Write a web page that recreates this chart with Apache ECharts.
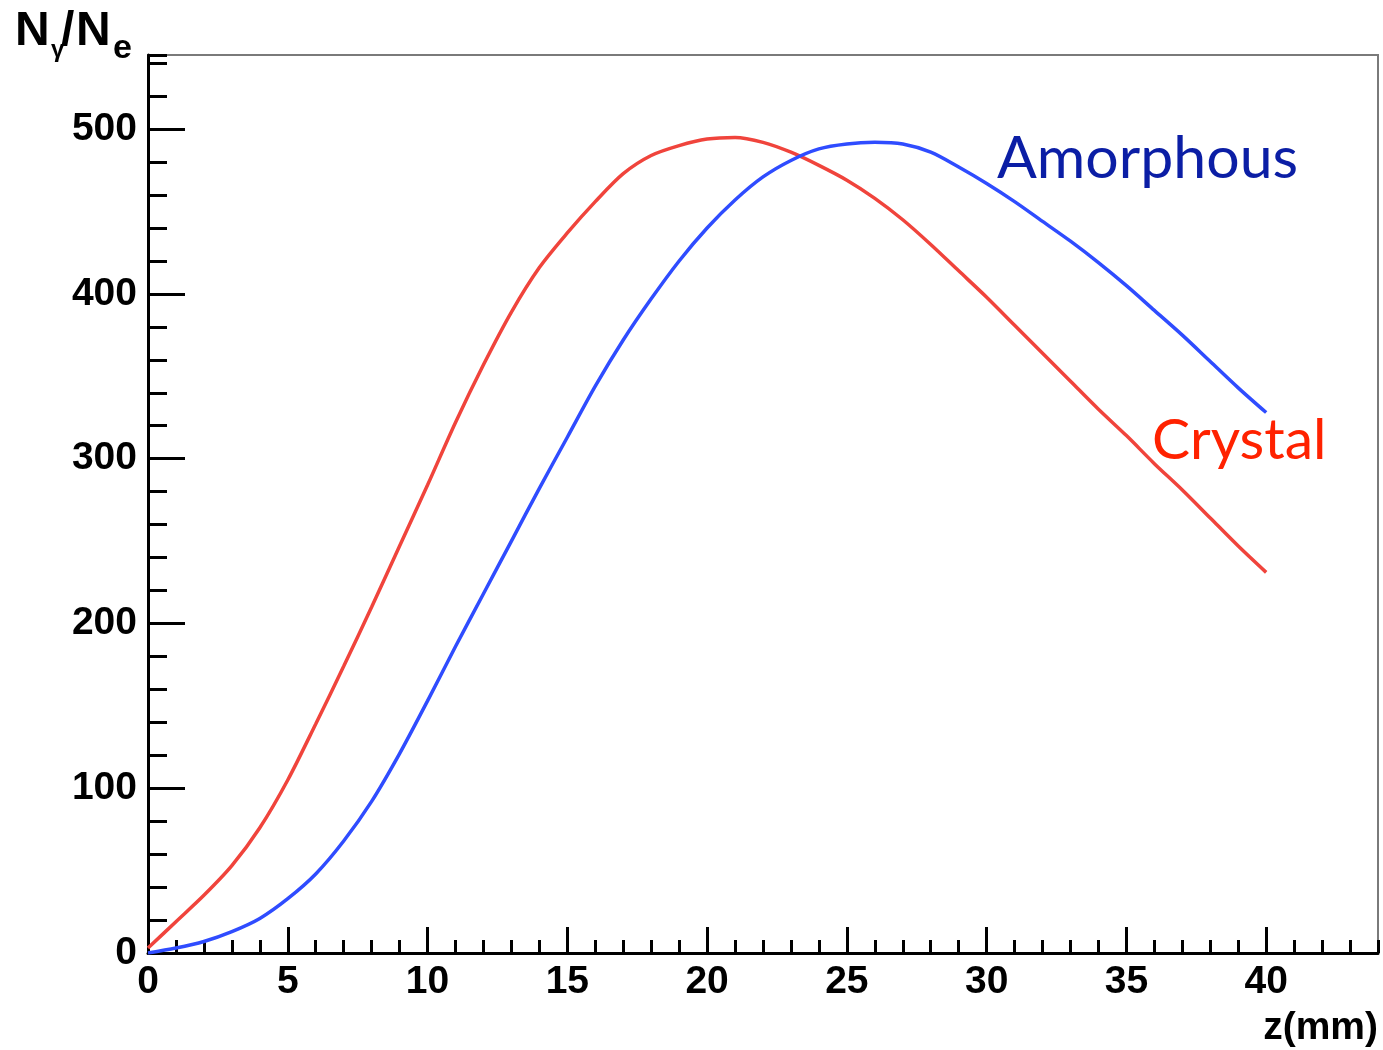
<!DOCTYPE html>
<html>
<head>
<meta charset="utf-8">
<script src="https://cdn.jsdelivr.net/npm/echarts@6/dist/echarts.min.js"></script>
<style>
html,body{margin:0;padding:0;background:#fff;}
#chart{width:1383px;height:1050px;}
</style>
</head>
<body>
<div id="chart"></div>
<script>
// z positions (mm)
var zValues = [0,1,2,3,4,5,6,7,8,9,10,11,12,13,14,15,16,17,18,19,20,21,22,23,24,25,26,27,28,29,30,31,32,33,34,35,36,37,38,39,40];
// Crystal (red)
var crystal = [3,19,35,53,76,105,139,174,210,247,284,322,357,389,416,437,456,473,484,490,494,495,492,486,478,469,458,445,430,414,398,381,364,347,330,314,297,281,264,247,231];
// Amorphous (blue)
var amorphous = [0,3,7,13,21,33,48,68,92,121,153,186,218,250,282,313,344,372,397,420,440,457,471,481,488,491,492,491,486,477,467,456,444,432,419,405,390,375,359,343,328];
var xMajorTicks = [0,5,10,15,20,25,30,35,40];
var yMajorTicks = [0,100,200,300,400,500];

var FONT = '"Liberation Sans", Arial, Helvetica, sans-serif';
var LABEL_FONT = 'Lato, "Open Sans", sans-serif';
function pairs(xs, ys){ return xs.map(function(x,i){ return [x, ys[i]]; }); }

var chart = echarts.init(document.getElementById('chart'), null, {renderer:'canvas'});
var option = {
  backgroundColor:'#ffffff',
  animation:false,
  grid:{left:148,right:5,top:55,bottom:97,show:true,borderColor:'#7a7a7a',borderWidth:2,backgroundColor:'transparent'},
  xAxis:[
    {type:'value',min:0,max:44,interval:5,
     axisLine:{show:true,onZero:false,lineStyle:{color:'#000',width:3}},
     axisTick:{show:true,inside:true,length:26,lineStyle:{color:'#000',width:3}},
     axisLabel:{show:true,margin:10,fontSize:39,fontWeight:'bold',fontFamily:FONT,color:'#000',showMaxLabel:false,
       formatter:function(v){ return xMajorTicks.indexOf(v)>=0 ? String(v) : ''; }},
     splitLine:{show:false}},
    {type:'value',min:0,max:44,interval:1,position:'bottom',
     axisLine:{show:false},
     axisTick:{show:true,inside:true,length:13,lineStyle:{color:'#000',width:3}},
     axisLabel:{show:false},splitLine:{show:false}}
  ],
  yAxis:[
    {type:'value',min:0,max:545,interval:100,
     axisLine:{show:true,onZero:false,lineStyle:{color:'#000',width:3}},
     axisTick:{show:true,inside:true,length:37,lineStyle:{color:'#000',width:3}},
     axisLabel:{show:true,margin:11,fontSize:39,fontWeight:'bold',fontFamily:FONT,color:'#000',showMaxLabel:false,
       formatter:function(v){ return yMajorTicks.indexOf(v)>=0 ? String(v) : ''; }},
     splitLine:{show:false}},
    {type:'value',min:0,max:545,interval:20,position:'left',
     axisLine:{show:false},
     axisTick:{show:true,inside:true,length:19,lineStyle:{color:'#000',width:3}},
     axisLabel:{show:false},splitLine:{show:false}}
  ],
  series:[
    {name:'Crystal',type:'line',xAxisIndex:0,yAxisIndex:0,data:pairs(zValues,crystal),showSymbol:false,smooth:0.3,
     lineStyle:{color:'#f0443c',width:3.5},z:3},
    {name:'Amorphous',type:'line',xAxisIndex:0,yAxisIndex:0,data:pairs(zValues,amorphous),showSymbol:false,smooth:0.3,
     lineStyle:{color:'#2f4cff',width:3.5},z:4}
  ],
  graphic:[
    {type:'text',left:15,top:8,style:{text:'N',fontSize:48,fontWeight:'bold',fontFamily:FONT,fill:'#000'}},
    {type:'text',left:51,top:38,style:{text:'γ',fontSize:24,fontWeight:'bold',fontFamily:FONT,fill:'#000'}},
    {type:'text',left:61,top:8,style:{text:'/',fontSize:48,fontWeight:'bold',fontFamily:FONT,fill:'#000'}},
    {type:'text',left:76,top:8,style:{text:'N',fontSize:48,fontWeight:'bold',fontFamily:FONT,fill:'#000'}},
    {type:'text',left:113,top:32,style:{text:'e',fontSize:34,fontWeight:'bold',fontFamily:FONT,fill:'#000'}},
    {type:'text',right:5,top:1009,style:{text:'z(mm)',fontSize:39,fontWeight:'bold',fontFamily:FONT,fill:'#000'}},
    {type:'text',left:997,top:129,style:{text:'Amorphous',fontSize:59,fontFamily:LABEL_FONT,fill:'#0b1ea5'}},
    {type:'text',left:1152,top:412,style:{text:'Crystal',fontSize:57,fontFamily:LABEL_FONT,fill:'#ff2200'}}
  ]
};
chart.setOption(option);
</script>
</body>
</html>
